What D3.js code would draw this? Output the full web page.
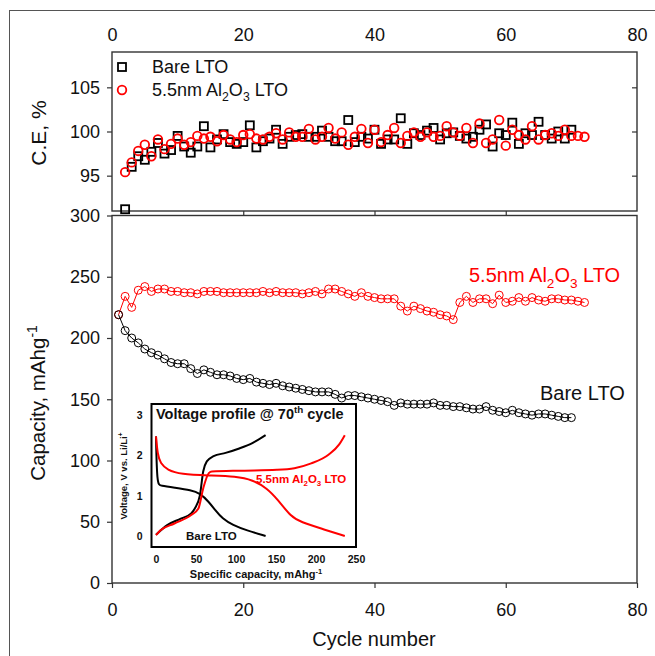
<!DOCTYPE html>
<html>
<head>
<meta charset="utf-8">
<script src="https://cdn.jsdelivr.net/npm/d3@7"></script>
<style>
  html, body { margin: 0; background: #fff; overflow: hidden; }
  svg { display: block; font-family: "Liberation Sans", Arial, sans-serif; }
</style>
</head>
<body>
<div id="chart"></div>
<script>
// capacity per cycle (mAh/g), cycles start at 1
var bareCap = [219, 206, 200, 196, 191, 188, 186, 183, 180, 179, 179, 175, 171, 174, 172, 170, 170, 169, 167, 166,
    167, 164, 163, 162, 163, 161, 160, 159, 158, 157, 156, 156, 156, 154, 151, 153, 153, 152, 151, 150,
    149, 148, 145, 147, 146, 146, 146, 146, 147, 145, 145, 144, 144, 143, 142, 142, 144, 141, 140, 139,
    141, 139, 138, 137, 138, 138, 137, 136, 135, 135];
var alCap = [219, 234, 225, 239, 242, 238, 240, 240, 238, 238, 237, 237, 236, 238, 238, 238, 237, 237, 237, 237,
    237, 237, 238, 237, 238, 237, 237, 237, 236, 237, 238, 236, 240, 240, 238, 236, 234, 237, 234, 233,
    232, 232, 232, 226, 222, 226, 224, 222, 221, 219, 218, 215, 229, 234, 229, 232, 232, 228, 235, 229,
    230, 233, 230, 233, 231, 230, 232, 232, 231, 231, 230, 229];

// coulombic efficiency (%), cycles start at 2
var bareCE = [91.2, 96.0, 97.2, 96.8, 97.7, 98.7, 97.5, 97.9, 99.5, 98.3, 97.6, 98.3, 100.6, 98.2, 99.1, 99.7, 98.8, 98.6, 98.8,
    100.7, 98.2, 98.9, 99.2, 100.2, 98.6, 99.4, 99.6, 99.7, 99.4, 99.4, 100.1, 99.4, 98.9, 98.9, 101.3, 98.8, 99.4, 99.2, 100.2,
    98.6, 99.1, 99.1, 101.5, 98.6, 99.8, 99.6, 100.1, 100.4, 99.1, 99.8, 99.9, 99.5, 99.2, 99.4, 100.2, 100.8, 98.3, 99.8, 99.6,
    101.0, 98.6, 99.8, 99.6, 101.1, 99.6, 99.2, 100.0, 99.2, 100.2];
var alCE = [95.4, 96.5, 97.8, 98.5, 97.2, 99.1, 98.0, 98.6, 99.2, 98.5, 98.8, 99.5, 99.2, 99.4, 98.9, 99.6, 99.1, 98.8, 99.6,
    99.7, 99.2, 99.1, 99.4, 99.8, 99.1, 99.9, 99.4, 99.4, 100.3, 99.1, 99.4, 100.4, 99.2, 99.9, 98.5, 99.4, 100.3, 98.7, 100.2,
    98.8, 99.6, 100.4, 98.7, 99.5, 99.9, 99.4, 99.9, 99.4, 99.5, 100.6, 99.9, 99.5, 100.4, 98.7, 100.9, 98.7, 99.1, 101.3, 98.4,
    100.2, 99.6, 99.1, 100.6, 99.1, 99.6, 99.8, 99.5, 100.2, 99.5, 99.5, 99.4];

// inset voltage profiles at the 70th cycle: [capacity mAh/g, voltage V]
var bareCharge = [[0, 0.03], [14, 0.27], [31, 0.43], [44, 0.56], [48.5, 0.68], [55, 1.02], [59, 1.6], [63.5, 1.85],
    [72, 1.98], [87, 2.06], [104, 2.17], [121, 2.31], [137, 2.5]];
var bareDischarge = [[0, 2.47], [1.3, 1.27], [5.6, 1.25], [23, 1.2], [44, 1.14], [55, 1.06], [66, 0.85], [74, 0.64],
    [83, 0.43], [96, 0.27], [113, 0.14], [137, 0.0]];
var alCharge = [[0, 0.02], [5.6, 0.14], [23, 0.31], [44, 0.52], [53, 0.68], [59, 1.18], [66, 1.56], [70, 1.6],
    [108, 1.62], [151, 1.64], [173, 1.68], [194, 1.8], [216, 2.02], [229, 2.27], [236, 2.5]];
var alDischarge = [[0, 2.47], [2, 2.02], [5.6, 1.8], [14, 1.64], [31, 1.53], [66, 1.5], [100, 1.48], [121, 1.39],
    [139, 1.18], [151, 0.93], [169, 0.47], [181, 0.35], [207, 0.18], [236, 0.0]];

var cycleTicks = [0, 20, 40, 60, 80];
var ceTicks = [95, 100, 105];
var capTicks = [0, 50, 100, 150, 200, 250, 300];
var insetXTicks = [0, 50, 100, 150, 200, 250];
var insetYTicks = [0, 1, 2, 3];

var RED = "#f00";
var width = 655, height = 656;

var svg = d3.select("#chart").append("svg")
    .attr("width", width)
    .attr("height", height);

// outer frame (only top and left edges fall inside the picture)
svg.append("rect")
    .attr("x", 9.5).attr("y", 10.5)
    .attr("width", 700).attr("height", 700)
    .attr("fill", "none").attr("stroke", "#555").attr("stroke-width", 1);

var x = d3.scaleLinear().domain([0, 80]).range([112, 637]);
var yCE = d3.scaleLinear().domain([91, 109]).range([211, 52]);
var yCap = d3.scaleLinear().domain([0, 300]).range([583, 215.5]);

// text with sub/superscripts
function rich(t, parts, fs) {
    var shift = 0;
    parts.forEach(function (p) {
        var target = p[1] === "sub" ? fs * 0.3 : (p[1] === "sup" ? -fs * 0.4 : 0);
        t.append("tspan")
            .attr("dy", target - shift)
            .attr("font-size", p[1] === "n" ? fs : fs * 0.68)
            .text(p[0]);
        shift = target;
    });
}
var alLabel = [["5.5nm Al", "n"], ["2", "sub"], ["O", "n"], ["3", "sub"], [" LTO", "n"]];

function styleAxis(g, fs) {
    g.select(".domain").remove();
    g.selectAll("line").attr("stroke", "#333").attr("stroke-width", 1.2);
    g.selectAll("text").attr("font-size", fs).attr("fill", "#111")
        .attr("font-family", "Liberation Sans, Arial, sans-serif");
}

// ---------- top panel: C.E. ----------
svg.append("g").attr("transform", "translate(0,52)")
    .call(d3.axisTop(x).tickValues(cycleTicks).tickSize(0).tickPadding(11))
    .call(styleAxis, 18);
svg.append("g").attr("transform", "translate(112,0)")
    .call(d3.axisLeft(yCE).tickValues(ceTicks).tickSize(5).tickPadding(7))
    .call(styleAxis, 18);
svg.append("g").attr("transform", "translate(637,0)")
    .call(d3.axisLeft(yCE).tickValues(ceTicks).tickSize(5).tickFormat(""))
    .call(styleAxis, 18);
// ticks between the two panels
svg.append("g").attr("transform", "translate(0,211)")
    .call(d3.axisBottom(x).tickValues([20, 40, 60]).tickSize(4.5).tickFormat(""))
    .call(styleAxis, 18);

svg.append("rect")
    .attr("x", 112).attr("y", 52)
    .attr("width", 525).attr("height", 159)
    .attr("fill", "none").attr("stroke", "#333").attr("stroke-width", 1.4);

svg.append("g").selectAll("rect")
    .data(bareCE)
    .enter().append("rect")
    .attr("x", function (d, i) { return x(i + 2) - 4; })
    .attr("y", function (d) { return yCE(d) - 4; })
    .attr("width", 8).attr("height", 8)
    .attr("fill", "none").attr("stroke", "#000").attr("stroke-width", 1.8);

svg.append("g").selectAll("circle")
    .data(alCE)
    .enter().append("circle")
    .attr("cx", function (d, i) { return x(i + 2); })
    .attr("cy", function (d) { return yCE(d); })
    .attr("r", 4.3)
    .attr("fill", "none").attr("stroke", RED).attr("stroke-width", 1.8);

// legend
svg.append("rect").attr("x", 118).attr("y", 63).attr("width", 8).attr("height", 8)
    .attr("fill", "none").attr("stroke", "#000").attr("stroke-width", 1.8);
svg.append("circle").attr("cx", 122).attr("cy", 90).attr("r", 4.3)
    .attr("fill", "none").attr("stroke", RED).attr("stroke-width", 1.8);
svg.append("text").attr("x", 152).attr("y", 73).attr("font-size", 18).attr("fill", "#111").text("Bare LTO");
rich(svg.append("text").attr("x", 152).attr("y", 96).attr("fill", "#111"), alLabel, 18);

svg.append("text")
    .attr("transform", "translate(46,133) rotate(-90)")
    .attr("text-anchor", "middle")
    .attr("font-size", 21).attr("fill", "#111")
    .text("C.E, %");

// ---------- bottom panel: capacity ----------
svg.append("g").attr("transform", "translate(112,0)")
    .call(d3.axisLeft(yCap).tickValues(capTicks).tickSize(5).tickPadding(7))
    .call(styleAxis, 18);
svg.append("g").attr("transform", "translate(0,583)")
    .call(d3.axisBottom(x).tickValues(cycleTicks).tickSize(5).tickPadding(15))
    .call(styleAxis, 18);

svg.append("rect")
    .attr("x", 112).attr("y", 215.5)
    .attr("width", 525).attr("height", 367.5)
    .attr("fill", "none").attr("stroke", "#333").attr("stroke-width", 1.4);

var capLine = d3.line()
    .x(function (d, i) { return x(i + 1); })
    .y(function (d) { return yCap(d); });

[[alCap, RED], [bareCap, "#000"]].forEach(function (s) {
    svg.append("path").datum(s[0])
        .attr("d", capLine)
        .attr("fill", "none").attr("stroke", s[1]).attr("stroke-width", 1);
    svg.append("g").selectAll("circle")
        .data(s[0])
        .enter().append("circle")
        .attr("cx", function (d, i) { return x(i + 1); })
        .attr("cy", function (d) { return yCap(d); })
        .attr("r", 4)
        .attr("fill", "none").attr("stroke", s[1]).attr("stroke-width", 1);
});

rich(svg.append("text").attr("x", 469).attr("y", 282).attr("fill", RED), alLabel, 20);
svg.append("text").attr("x", 540).attr("y", 400).attr("font-size", 20).attr("fill", "#111").text("Bare LTO");

var capTitle = svg.append("text")
    .attr("transform", "translate(45,403) rotate(-90)")
    .attr("text-anchor", "middle")
    .attr("fill", "#111");
rich(capTitle, [["Capacity, mAhg", "n"], ["-1", "sup"]], 20.5);

svg.append("text")
    .attr("x", 374).attr("y", 646)
    .attr("text-anchor", "middle")
    .attr("font-size", 20).attr("fill", "#111")
    .text("Cycle number");

// ---------- inset: voltage profile ----------
var xi = d3.scaleLinear().domain([0, 250]).range([156, 356]);
var yi = d3.scaleLinear().domain([0, 3]).range([536, 415]);

svg.append("rect")
    .attr("x", 151.5).attr("y", 404)
    .attr("width", 204.5).attr("height", 143)
    .attr("fill", "#fff").attr("stroke", "#000").attr("stroke-width", 2);

svg.append("g").attr("transform", "translate(151.5,0)")
    .call(d3.axisLeft(yi).tickValues(insetYTicks).tickSize(0).tickPadding(9).tickFormat(d3.format("d")))
    .call(styleAxis, 10.5)
    .selectAll("text").attr("font-weight", "bold");
svg.append("g").attr("transform", "translate(0,547)")
    .call(d3.axisBottom(xi).tickValues(insetXTicks).tickSize(0).tickPadding(9))
    .call(styleAxis, 10.5)
    .selectAll("text").attr("font-weight", "bold");

var vLine = d3.line()
    .curve(d3.curveMonotoneX)
    .x(function (d) { return xi(d[0]); })
    .y(function (d) { return yi(d[1]); });
var vLineD = d3.line()
    .curve(d3.curveBasis)
    .x(function (d) { return xi(d[0]); })
    .y(function (d) { return yi(d[1]); });

[[bareCharge, "#000", vLine], [bareDischarge, "#000", vLineD],
 [alCharge, RED, vLine], [alDischarge, RED, vLineD]].forEach(function (s) {
    svg.append("path").datum(s[0])
        .attr("d", s[2])
        .attr("fill", "none").attr("stroke", s[1]).attr("stroke-width", 2);
});

var insetTitle = svg.append("text").attr("x", 156).attr("y", 419)
    .attr("font-weight", "bold").attr("fill", "#111");
rich(insetTitle, [["Voltage profile @ 70", "n"], ["th", "sup"], [" cycle", "n"]], 14.5);

rich(svg.append("text").attr("x", 256).attr("y", 483).attr("font-weight", "bold").attr("fill", RED), alLabel, 11.5);
svg.append("text").attr("x", 186).attr("y", 540).attr("font-weight", "bold")
    .attr("font-size", 11.5).attr("fill", "#111").text("Bare LTO");

var vTitle = svg.append("text")
    .attr("transform", "translate(127,476) rotate(-90)")
    .attr("text-anchor", "middle")
    .attr("font-weight", "bold").attr("fill", "#111");
rich(vTitle, [["Voltage, V vs. Li/Li", "n"], ["+", "sup"]], 9.5);

var sTitle = svg.append("text")
    .attr("x", 256).attr("y", 578)
    .attr("text-anchor", "middle")
    .attr("font-weight", "bold").attr("fill", "#111");
rich(sTitle, [["Specific capacity, mAhg", "n"], ["-1", "sup"]], 11);
</script>
</body>
</html>
